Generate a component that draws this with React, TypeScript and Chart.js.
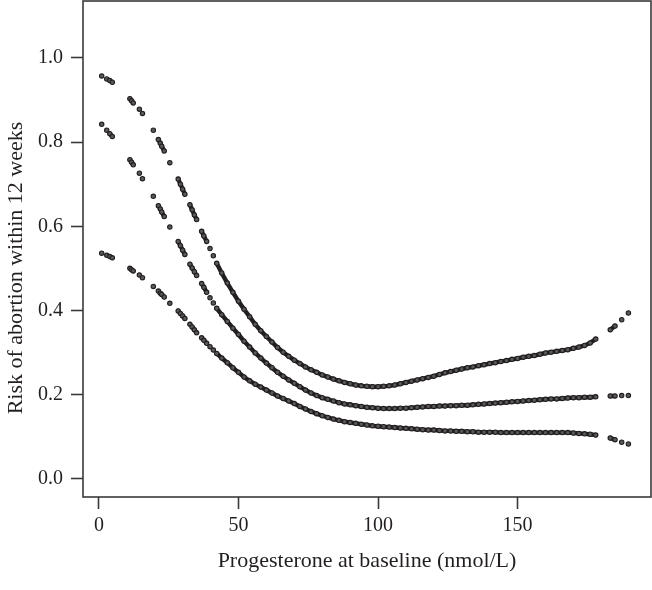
import { useEffect, useRef } from "react";
import { Chart, registerables } from "chart.js";

Chart.register(...registerables);

const xTitle = "Progesterone at baseline (nmol/L)";
const yTitle = "Risk of abortion within 12 weeks";
const xTicks = [0, 50, 100, 150];
const yTicks = [0, 0.2, 0.4, 0.6, 0.8, 1.0];

const xValues = [
  1.0, 2.8, 3.9, 4.8, 11.1, 11.7, 12.3, 14.5, 15.6, 19.5, 21.3, 22.0, 22.5, 23.4, 25.4,
  28.4, 29.2, 30.0, 30.8, 32.6, 33.4, 34.2, 35.0, 36.8, 37.6, 38.6, 39.8, 41.0, 42.2,
  44, 46, 48, 50, 52, 54, 56, 58, 60, 62,
  64, 66, 68, 70, 72, 74, 76, 78, 80, 82,
  84, 86, 88, 90, 92, 94, 96, 98, 100, 102,
  104, 106, 108, 110, 112, 114, 116, 118, 120, 122,
  124, 126, 128, 130, 132, 134, 136, 138, 140, 142,
  144, 146, 148, 150, 152, 154, 156, 158, 160, 162,
  164, 166, 168, 170, 172, 174, 176, 178,
  183.2, 184.9, 187.3, 189.7,
];

const upperCI = [
  0.957, 0.950, 0.946, 0.942, 0.903, 0.898, 0.893, 0.878, 0.868, 0.828, 0.806, 0.797, 0.790, 0.779, 0.751,
  0.712, 0.700, 0.688, 0.676, 0.651, 0.639, 0.627, 0.616, 0.588, 0.577, 0.564, 0.547, 0.530, 0.512,
  0.489, 0.465, 0.443, 0.422, 0.403, 0.385, 0.367, 0.352, 0.338, 0.325,
  0.312, 0.301, 0.291, 0.282, 0.274, 0.266, 0.259, 0.253, 0.247, 0.242,
  0.237, 0.233, 0.229, 0.226, 0.223, 0.221, 0.220, 0.219, 0.219, 0.220,
  0.221, 0.223, 0.226, 0.229, 0.232, 0.235, 0.238, 0.241, 0.244, 0.248,
  0.252, 0.255, 0.258, 0.261, 0.264, 0.266, 0.269, 0.271, 0.274, 0.276,
  0.279, 0.281, 0.284, 0.286, 0.289, 0.291, 0.293, 0.296, 0.299, 0.301,
  0.303, 0.305, 0.307, 0.310, 0.313, 0.317, 0.323, 0.332,
  0.354, 0.363, 0.378, 0.394,
];

const fittedRisk = [
  0.842, 0.828, 0.820, 0.813, 0.758, 0.752, 0.746, 0.726, 0.713, 0.671, 0.649, 0.641, 0.634, 0.623, 0.598,
  0.564, 0.554, 0.543, 0.533, 0.510, 0.501, 0.492, 0.483, 0.464, 0.455, 0.443, 0.430, 0.418, 0.405,
  0.390, 0.374, 0.358, 0.343, 0.327, 0.313, 0.299, 0.287, 0.275, 0.264,
  0.253, 0.244, 0.235, 0.227, 0.219, 0.211, 0.204, 0.198, 0.193, 0.189,
  0.185, 0.181, 0.178, 0.176, 0.174, 0.172, 0.170, 0.169, 0.168, 0.167,
  0.167, 0.167, 0.168, 0.168, 0.169, 0.170, 0.171, 0.172, 0.172, 0.173,
  0.173, 0.174, 0.174, 0.175, 0.175, 0.176, 0.177, 0.178, 0.179, 0.180,
  0.181, 0.182, 0.183, 0.184, 0.185, 0.186, 0.187, 0.188, 0.189, 0.190,
  0.190, 0.191, 0.192, 0.193, 0.193, 0.194, 0.194, 0.195,
  0.197, 0.197, 0.198, 0.198,
];

const lowerCI = [
  0.536, 0.531, 0.528, 0.525, 0.500, 0.497, 0.494, 0.484, 0.478, 0.457, 0.446, 0.441, 0.438, 0.432, 0.417,
  0.399, 0.393, 0.387, 0.381, 0.367, 0.361, 0.354, 0.347, 0.335, 0.329, 0.322, 0.314, 0.306, 0.298,
  0.287, 0.276, 0.264, 0.253, 0.242, 0.233, 0.225, 0.218, 0.211, 0.204,
  0.197, 0.191, 0.185, 0.179, 0.172, 0.166, 0.160, 0.155, 0.150, 0.146,
  0.142, 0.139, 0.136, 0.134, 0.132, 0.130, 0.128, 0.126, 0.125, 0.124,
  0.123, 0.122, 0.121, 0.120, 0.119, 0.118, 0.117, 0.116, 0.116, 0.115,
  0.114, 0.114, 0.113, 0.113, 0.112, 0.112, 0.111, 0.111, 0.111, 0.111,
  0.110, 0.110, 0.110, 0.110, 0.110, 0.110, 0.110, 0.110, 0.110, 0.110,
  0.110, 0.110, 0.110, 0.109, 0.108, 0.107, 0.106, 0.104,
  0.097, 0.093, 0.087, 0.083,
];

export default function App() {
  const ref = useRef<HTMLCanvasElement>(null);

  useEffect(() => {
    if (!ref.current) return;
    const ink = "#231f20";
    const axisInk = "#3a3a3a";
    const family = "'Liberation Serif', 'Times New Roman', serif";
    const tickFont = { family, size: 20 };
    const titleFont = { family, size: 22 };
    const mk = (ys: number[]) => xValues.map((x, i) => ({ x, y: ys[i] }));

    const frame = {
      id: "frame",
      afterDraw(c: any) {
        const { left, top, right, bottom } = c.chartArea;
        const ctx = c.ctx;
        ctx.save();
        ctx.strokeStyle = axisInk;
        ctx.lineWidth = 1.6;
        ctx.strokeRect(left, top, right - left, bottom - top);
        // y-axis title (real text), placed like the reference
        ctx.fillStyle = ink;
        ctx.font = `22px ${family}`;
        ctx.textAlign = "center";
        ctx.textBaseline = "middle";
        ctx.translate(16, 268);
        ctx.rotate(-Math.PI / 2);
        ctx.fillText(yTitle, 0, 0);
        ctx.restore();
      },
    };

    const connect = (ctx: any) => {
      const x0 = ctx.p0.parsed.x;
      const dx = ctx.p1.parsed.x - x0;
      return dx <= 1.0 || (x0 >= 42 && dx <= 2.05) ? ink : "rgba(0,0,0,0)";
    };

    const style = {
      pointRadius: 2.2,
      pointBorderWidth: 1.1,
      pointBorderColor: ink,
      pointBackgroundColor: "#5a5a5a",
      showLine: true,
      borderWidth: 4.4,
      borderColor: ink,
      borderCapStyle: "round",
      tension: 0,
      segment: { borderColor: connect },
    };

    const zeroPad = (s: any) => {
      s.paddingTop = 0;
      s.paddingBottom = 0;
      s.paddingLeft = 0;
      s.paddingRight = 0;
    };

    const chart = new Chart(ref.current, {
      type: "scatter",
      data: {
        datasets: [
          { label: "Upper", data: mk(upperCI), ...style },
          { label: "Fitted", data: mk(fittedRisk), ...style },
          { label: "Lower", data: mk(lowerCI), ...style },
        ],
      },
      options: {
        animation: false,
        responsive: false,
        layout: { autoPadding: false, padding: { top: 1, right: 1, left: 0, bottom: 0 } },
        plugins: { legend: { display: false }, tooltip: { enabled: false } },
        scales: {
          x: {
            type: "linear",
            min: -5.7,
            max: 197.8,
            afterBuildTicks: (s: any) => {
              s.ticks = xTicks.map((v) => ({ value: v }));
            },
            afterFit: (s: any) => {
              s.height = 93;
              zeroPad(s);
            },
            border: { display: false },
            grid: {
              drawOnChartArea: false,
              drawTicks: true,
              tickLength: 12,
              tickColor: axisInk,
              tickWidth: 1.6,
            },
            ticks: {
              color: ink,
              font: tickFont,
              padding: 5,
              maxRotation: 0,
              callback: (v: any) => String(v),
            },
            title: {
              display: true,
              text: xTitle,
              color: ink,
              font: titleFont,
              padding: { top: 0, bottom: 16 },
            },
          },
          y: {
            type: "linear",
            min: -0.043,
            max: 1.135,
            afterBuildTicks: (s: any) => {
              s.ticks = yTicks.map((v) => ({ value: v }));
            },
            afterFit: (s: any) => {
              s.width = 83;
              zeroPad(s);
            },
            border: { display: false },
            grid: {
              drawOnChartArea: false,
              drawTicks: true,
              tickLength: 12,
              tickColor: axisInk,
              tickWidth: 1.6,
            },
            ticks: {
              color: ink,
              font: tickFont,
              padding: 8,
              callback: (v: any) => Number(v).toFixed(1),
            },
            title: { display: false },
          },
        },
      },
      plugins: [frame],
    } as any);

    return () => chart.destroy();
  }, []);

  return (
    <div
      style={{
        position: "fixed",
        left: 0,
        top: 0,
        width: 652,
        height: 590,
        background: "#fff",
      }}
    >
      <canvas ref={ref} width={652} height={590} style={{ display: "block", width: 652, height: 590 }} />
    </div>
  );
}
